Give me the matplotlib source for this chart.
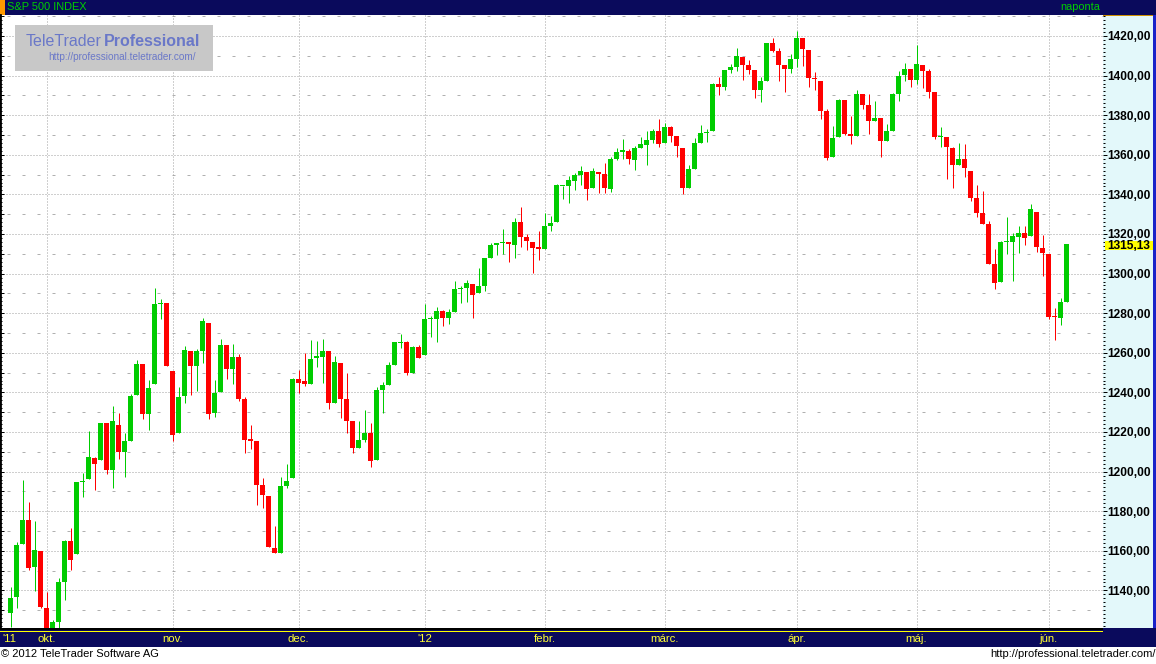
import matplotlib
matplotlib.use('Agg')
import matplotlib.pyplot as plt
from matplotlib.patches import Rectangle
from matplotlib.ticker import MultipleLocator, FixedLocator, FuncFormatter
import matplotlib.transforms as mtransforms

plt.rcParams['font.family'] = ['Liberation Sans', 'DejaVu Sans']
plt.rcParams['lines.scale_dashes'] = False

# ---------------- data (S&P 500 INDEX, daily) ----------------
dates = [
 "2011-09-23","2011-09-26","2011-09-27","2011-09-28","2011-09-29","2011-09-30",
 "2011-10-03","2011-10-04","2011-10-05","2011-10-06","2011-10-07","2011-10-10","2011-10-11","2011-10-12",
 "2011-10-13","2011-10-14","2011-10-17","2011-10-18","2011-10-19","2011-10-20","2011-10-21","2011-10-24",
 "2011-10-25","2011-10-26","2011-10-27","2011-10-28","2011-10-31",
 "2011-11-01","2011-11-02","2011-11-03","2011-11-04","2011-11-07","2011-11-08","2011-11-09","2011-11-10",
 "2011-11-11","2011-11-14","2011-11-15","2011-11-16","2011-11-17","2011-11-18","2011-11-21","2011-11-22",
 "2011-11-23","2011-11-25","2011-11-28","2011-11-29","2011-11-30",
 "2011-12-01","2011-12-02","2011-12-05","2011-12-06","2011-12-07","2011-12-08","2011-12-09","2011-12-12",
 "2011-12-13","2011-12-14","2011-12-15","2011-12-16","2011-12-19","2011-12-20","2011-12-21","2011-12-22",
 "2011-12-23","2011-12-27","2011-12-28","2011-12-29","2011-12-30",
 "2012-01-03","2012-01-04","2012-01-05","2012-01-06","2012-01-09","2012-01-10","2012-01-11","2012-01-12",
 "2012-01-13","2012-01-17","2012-01-18","2012-01-19","2012-01-20","2012-01-23","2012-01-24","2012-01-25",
 "2012-01-26","2012-01-27","2012-01-30","2012-01-31",
 "2012-02-01","2012-02-02","2012-02-03","2012-02-06","2012-02-07","2012-02-08","2012-02-09","2012-02-10",
 "2012-02-13","2012-02-14","2012-02-15","2012-02-16","2012-02-17","2012-02-21","2012-02-22","2012-02-23",
 "2012-02-24","2012-02-27","2012-02-28","2012-02-29",
 "2012-03-01","2012-03-02","2012-03-05","2012-03-06","2012-03-07","2012-03-08","2012-03-09","2012-03-12",
 "2012-03-13","2012-03-14","2012-03-15","2012-03-16","2012-03-19","2012-03-20","2012-03-21","2012-03-22",
 "2012-03-23","2012-03-26","2012-03-27","2012-03-28","2012-03-29","2012-03-30",
 "2012-04-02","2012-04-03","2012-04-04","2012-04-05","2012-04-09","2012-04-10","2012-04-11","2012-04-12",
 "2012-04-13","2012-04-16","2012-04-17","2012-04-18","2012-04-19","2012-04-20","2012-04-23","2012-04-24",
 "2012-04-25","2012-04-26","2012-04-27","2012-04-30",
 "2012-05-01","2012-05-02","2012-05-03","2012-05-04","2012-05-07","2012-05-08","2012-05-09","2012-05-10",
 "2012-05-11","2012-05-14","2012-05-15","2012-05-16","2012-05-17","2012-05-18","2012-05-21","2012-05-22",
 "2012-05-23","2012-05-24","2012-05-25","2012-05-29","2012-05-30","2012-05-31",
 "2012-06-01","2012-06-04","2012-06-05","2012-06-06",
]

opens = [
 1128.8,1136.9,1163.3,1175.4,1151.7,1159.9,
 1131.2,1097.4,1124.0,1144.1,1165.0,1158.2,1194.6,1196.2,1207.0,1205.7,1224.5,1200.8,1223.5,1209.9,1215.4,
 1238.7,1254.2,1229.2,1244.0,1284.4,1285.0,
 1251.0,1219.6,1238.3,1260.8,1253.2,1261.1,1275.2,1229.6,1240.1,1263.9,1251.7,1257.8,1236.6,1216.2,1215.6,
 1193.0,1187.5,1161.4,1158.7,1192.6,1196.7,
 1246.9,1246.0,1244.3,1257.2,1258.1,1260.9,1234.5,1255.1,1236.8,1225.7,1212.1,1216.1,1219.7,1205.7,1241.3,
 1243.7,1254.0,1265.0,1265.4,1249.8,1262.8,
 1258.9,1277.0,1277.3,1280.9,1277.8,1280.8,1292.0,1292.5,1294.8,1290.2,1293.7,1308.1,1314.5,1315.3,1316.0,
 1314.4,1326.3,1318.3,1316.2,1313.5,
 1312.5,1324.2,1326.2,1344.3,1344.3,1347.0,1350.0,1351.2,1343.1,1351.3,1350.5,1342.6,1358.1,1361.2,1362.1,
 1357.5,1363.5,1365.2,1367.6,1372.2,
 1365.9,1374.1,1369.6,1363.6,1343.4,1352.7,1366.0,1370.8,1371.9,1396.0,1394.2,1402.6,1404.2,1409.6,1405.5,
 1402.9,1392.8,1397.1,1416.6,1412.5,1405.4,1403.3,
 1408.5,1419.0,1413.1,1398.8,1397.5,1382.2,1359.0,1368.8,1387.6,1370.3,1369.6,1390.8,1385.1,1377.0,1378.5,
 1367.0,1372.1,1390.6,1400.2,1403.3,
 1397.9,1405.5,1402.3,1391.5,1368.8,1369.2,1363.2,1354.6,1358.1,1351.9,1338.4,1330.8,1324.8,1305.1,1295.7,
 1316.1,1316.0,1318.7,1320.6,1318.9,1331.3,1313.1,
 1309.9,1278.3,1277.8,1285.6,
]

highs = [
 1141.7,1164.2,1195.9,1184.7,1175.1,1159.9,
 1139.0,1125.1,1146.1,1165.6,1171.4,1194.9,1199.2,1220.3,1207.5,1224.6,1224.5,1233.1,1229.6,1219.3,1239.0,
 1256.6,1254.2,1246.3,1292.7,1287.1,1285.0,
 1251.0,1242.5,1263.2,1260.8,1261.7,1277.6,1275.2,1246.2,1267.0,1263.9,1264.3,1259.6,1237.7,1223.5,1215.6,
 1196.8,1187.5,1172.7,1197.4,1203.7,1247.1,
 1251.1,1260.1,1266.7,1266.0,1267.1,1260.9,1258.3,1255.1,1249.9,1225.7,1225.6,1231.0,1224.6,1242.8,1245.1,
 1255.2,1265.4,1269.4,1265.9,1263.5,1264.1,
 1284.6,1278.7,1283.1,1281.8,1282.0,1296.5,1293.8,1296.8,1294.8,1303.0,1308.1,1315.5,1315.4,1322.3,1316.0,
 1328.3,1333.5,1320.1,1316.2,1321.4,
 1330.5,1329.2,1345.3,1344.4,1349.2,1351.0,1354.3,1351.2,1353.4,1351.3,1355.9,1359.0,1363.4,1367.8,1362.7,
 1364.2,1368.9,1371.9,1373.1,1378.0,
 1376.2,1374.5,1369.6,1363.6,1354.9,1368.7,1374.8,1373.0,1396.1,1399.4,1402.6,1405.9,1414.0,1409.6,1407.8,
 1402.9,1399.2,1416.6,1419.2,1413.7,1405.4,1410.9,
 1422.4,1419.0,1413.1,1401.6,1397.5,1383.0,1374.7,1388.1,1387.6,1379.7,1392.8,1390.8,1390.5,1387.4,1378.5,
 1375.6,1391.4,1402.1,1406.6,1403.3,
 1415.3,1405.5,1403.1,1391.5,1373.9,1369.2,1363.7,1365.9,1365.7,1351.9,1344.9,1341.8,1326.4,1312.2,1316.4,
 1328.5,1320.7,1324.1,1324.2,1334.9,1331.3,1319.7,
 1309.9,1282.6,1287.6,1315.1,
]

lows = [
 1121.4,1131.1,1163.3,1150.4,1139.9,1131.3,
 1098.9,1074.8,1115.7,1135.0,1150.3,1158.2,1187.3,1196.2,1190.6,1205.7,1198.6,1191.5,1206.3,1197.3,1215.4,
 1238.7,1226.8,1221.1,1244.0,1277.0,1253.2,
 1215.4,1219.6,1234.8,1238.9,1240.8,1255.0,1226.6,1227.7,1240.1,1246.7,1244.3,1235.7,1209.4,1211.4,1183.2,
 1181.7,1161.8,1158.7,1158.7,1191.8,1196.7,
 1239.7,1243.4,1244.3,1253.0,1244.8,1231.5,1234.5,1227.3,1219.4,1209.5,1212.1,1215.2,1202.4,1205.7,1229.5,
 1243.7,1254.0,1262.3,1248.6,1249.8,1257.5,
 1258.9,1268.1,1265.3,1273.3,1274.6,1280.8,1285.4,1285.8,1277.6,1290.2,1291.0,1308.1,1309.2,1309.9,1306.1,
 1307.7,1313.6,1311.7,1300.5,1306.7,
 1312.5,1321.6,1326.2,1337.5,1335.9,1342.0,1344.6,1337.4,1343.1,1340.8,1340.8,1341.2,1357.2,1358.1,1355.5,
 1352.3,1363.5,1354.9,1366.0,1363.8,
 1365.9,1366.4,1359.1,1340.0,1343.4,1352.7,1366.0,1366.7,1371.9,1390.0,1392.8,1401.5,1402.4,1397.7,1400.6,
 1388.7,1386.9,1397.1,1412.0,1397.2,1391.6,1401.4,
 1404.5,1404.6,1394.1,1392.9,1378.2,1357.4,1359.0,1368.8,1369.9,1365.4,1369.6,1383.3,1370.3,1377.0,1358.8,
 1366.8,1372.1,1387.3,1397.3,1394.0,
 1395.7,1393.9,1388.7,1368.0,1363.9,1347.8,1343.1,1354.6,1348.9,1336.6,1328.4,1324.8,1304.9,1292.0,1295.7,
 1310.0,1296.5,1310.5,1314.2,1318.9,1310.8,1298.9,
 1277.3,1266.7,1274.2,1285.6,
]

closes = [
 1136.4,1163.0,1175.4,1151.1,1160.4,1131.4,
 1099.2,1124.0,1144.0,1165.0,1155.5,1194.9,1195.5,1207.3,1203.7,1224.6,1200.9,1225.4,1209.9,1215.4,1238.3,
 1254.2,1229.1,1242.0,1284.6,1285.1,1253.3,
 1218.3,1237.9,1261.2,1253.2,1261.1,1275.9,1229.1,1239.7,1263.9,1251.8,1257.8,1236.9,1216.1,1215.7,1193.0,
 1188.0,1161.8,1158.7,1192.6,1195.2,1247.0,
 1244.6,1244.3,1257.1,1258.5,1261.0,1234.4,1255.2,1236.5,1225.7,1211.8,1215.8,1219.7,1205.4,1241.3,1243.7,
 1254.0,1265.3,1265.4,1249.6,1263.0,1257.6,
 1277.1,1277.3,1281.1,1277.8,1280.7,1292.1,1292.5,1295.5,1289.1,1293.7,1308.0,1314.5,1315.4,1316.0,1314.7,
 1326.1,1318.4,1316.3,1313.0,1312.4,
 1324.1,1325.5,1344.9,1344.3,1347.1,1350.0,1352.0,1342.6,1351.8,1350.5,1343.2,1358.0,1361.2,1362.2,1357.7,
 1363.5,1365.7,1367.6,1372.2,1365.7,
 1374.1,1369.6,1364.3,1343.4,1352.6,1365.9,1370.9,1371.1,1396.0,1394.3,1402.6,1404.2,1409.8,1405.5,1402.9,
 1392.8,1397.1,1416.5,1412.5,1405.5,1403.3,1408.5,
 1419.0,1413.4,1399.0,1398.1,1382.2,1358.6,1368.7,1387.6,1370.3,1369.6,1390.8,1385.1,1376.9,1378.5,1366.9,
 1372.0,1390.7,1400.0,1403.4,1397.9,
 1405.8,1402.3,1391.6,1369.1,1369.6,1363.7,1354.6,1358.0,1353.4,1338.4,1330.7,1324.8,1304.9,1295.2,1316.0,
 1316.6,1318.9,1320.7,1317.8,1332.4,1313.3,1310.3,
 1278.0,1278.2,1285.5,1315.1,
]

month_labels = ["'11", "okt.", "nov.", "dec.", "'12", "febr.", "márc.", "ápr.", "máj.", "jún."]
month_dates = ["2011-09-23", "2011-10-03", "2011-11-01", "2011-12-01", "2012-01-03",
               "2012-02-01", "2012-03-01", "2012-04-02", "2012-05-01", "2012-06-01"]
y_ticks = list(range(1140, 1421, 20))
last_value = 1315.13
title = "S&P 500 INDEX"
period = "naponta"

# ---------------- styling ----------------
GREEN = '#00cc00'
RED = '#ff0000'
NAVY = '#0a0a5c'
GRID = '#a0a0a0'
W, H = 1156, 664
PT = 0.72  # one pixel in points

fig = plt.figure(figsize=(W / 100, H / 100), dpi=100)
fig.patch.set_facecolor('white')


def frac(x0, y0, x1, y1):
    return [x0 / W, 1 - y1 / H, (x1 - x0) / W, (y1 - y0) / H]


def frect(x0, y0, x1, y1, color, z=-5):
    l, b, w, h = frac(x0, y0, x1, y1)
    fig.add_artist(Rectangle((l, b), w, h, transform=fig.transFigure,
                             facecolor=color, edgecolor='none', zorder=z))


# frame pieces
frect(0, 0, W, 15, NAVY)                 # header
frect(0, 0, 5, 15, '#ff9900', z=-4)      # orange marker
frect(1103, 15, 1153, 628, '#e3f8fa')    # right price panel
frect(1103, 15, 1153, 16, '#d09000', z=-4)
frect(1153, 15, W, 628, '#1a22c8')       # panel border
frect(0, 628, W, 647, NAVY)              # x-axis band
frect(0, 627.6, 1103, 628.6, 'black', z=-4)
frect(0, 629.2, 1103, 630.2, 'black', z=-4)
frect(0, 630.5, 1103, 631.5, '#ffff00', z=-4)

fig.text(7 / W, 1 - 7.5 / H, title, color='#00d000', fontsize=7.9, ha='left', va='center')
fig.text(1100 / W, 1 - 7.5 / H, period, color='#00d000', fontsize=7.9, ha='right', va='center')
fig.text(1 / W, 1 - 654 / H, "© 2012 TeleTrader Software AG", color='black', fontsize=8,
         ha='left', va='center')
fig.text(1156 / W, 1 - 654 / H, "http://professional.teletrader.com/", color='black', fontsize=8,
         ha='right', va='center')

# ---------------- main axes ----------------
ax = fig.add_axes(frac(0, 15, 1103, 628))
ax.set_facecolor('white')
x_left = -10.5 / 6
x_right = (1103 - 10.5) / 6
ax.set_xlim(x_left, x_right)
ax.set_ylim(1320 - (628 - 234) / 1.98, 1320 + (234 - 15) / 1.98)

for s in ['top', 'right', 'bottom']:
    ax.spines[s].set_visible(False)
ax.spines['left'].set_color('black')
ax.spines['left'].set_linewidth(2.0)

ax.set_xticks([])
ax.yaxis.set_major_locator(MultipleLocator(10))
ax.yaxis.set_minor_locator(MultipleLocator(2))
ax.tick_params(axis='y', which='major', direction='in', length=4 * PT, width=1 * PT,
               color='black', labelleft=False)
ax.tick_params(axis='y', which='minor', direction='in', length=2.5 * PT, width=1 * PT,
               color='black')

# horizontal grid
for v in y_ticks:
    ax.axhline(v, color=GRID, lw=1 * PT, ls=(0, (1 * PT, 2 * PT)), zorder=1)
for v in range(1130, 1431, 20):
    ax.axhline(v, color='#b0b0b0', lw=1 * PT, ls=(8 * PT, (3 * PT, 12 * PT)), zorder=1)

# month grid and labels
idx = {d: i for i, d in enumerate(dates)}
label_y = -(639 - 628) / (628 - 15)
for k, (lab, d) in enumerate(zip(month_labels, month_dates)):
    xi = idx[d]
    if k > 0:
        ax.axvline(xi, color=GRID, lw=1 * PT, ls=(0, (1 * PT, 2 * PT)), zorder=1)
        ax.text(xi, label_y, lab, transform=ax.get_xaxis_transform(), color='#ffff33',
                fontsize=8.2, ha='center', va='center', clip_on=False)
    else:
        ax.text(x_left + 2 / 6, label_y, lab, transform=ax.get_xaxis_transform(),
                color='#ffff33', fontsize=8.2, ha='left', va='center', clip_on=False)

# candles
xs = list(range(len(dates)))
cols = [GREEN if c >= o else RED for o, c in zip(opens, closes)]
ax.vlines(xs, lows, highs, colors=cols, lw=1.0 * PT, zorder=3)
bottoms = [min(o, c) for o, c in zip(opens, closes)]
heights = [max(abs(c - o), 0.6) for o, c in zip(opens, closes)]
ax.bar(xs, heights, bottom=bottoms, width=5 / 6, color=cols, linewidth=0, zorder=4)

# ---------------- right price scale ----------------
ax2 = ax.twinx()
ax2.set_ylim(ax.get_ylim())
for s in ['top', 'right', 'bottom', 'left']:
    ax2.spines[s].set_visible(False)
ax2.yaxis.set_major_locator(FixedLocator(y_ticks))
ax2.yaxis.set_minor_locator(MultipleLocator(2))
ax2.yaxis.set_major_formatter(FuncFormatter(lambda v, p: f"{v:.2f}".replace('.', ',')))
ax2.tick_params(axis='y', which='major', direction='out', length=4 * PT, width=1 * PT,
                color='black', pad=0.5, labelsize=8.6, labelcolor='black')
ax2.tick_params(axis='y', which='minor', direction='out', length=2 * PT, width=1 * PT,
                color='black')
for t in ax2.get_yticklabels():
    t.set_fontweight('bold')

# highlighted last value: yellow box hugging the digits
px_per_unit = 1.98
box_top = last_value + 3.0 / px_per_unit
box_bot = last_value - 6.4 / px_per_unit
xform = mtransforms.blended_transform_factory(ax2.transAxes, ax2.transData)
ax2.add_patch(Rectangle((1 + 2 / 1103, box_bot), 48 / 1103, box_top - box_bot, transform=xform,
                        facecolor='#ffff00', edgecolor='none', clip_on=False, zorder=9))
ax2.text(1 + 4 / 1103, box_bot + 0.9 / px_per_unit, f"{last_value:.2f}".replace('.', ','),
         transform=xform, ha='left', va='baseline', fontsize=8.6, fontweight='bold',
         color='black', clip_on=False, zorder=10)

# ---------------- watermark ----------------
frect(15, 25, 213, 71, '#c8c8c8', z=5)
fig.text(26 / W, 1 - 45.5 / H, "TeleTrader", color='#6a78c8', fontsize=11.5,
         ha='left', va='baseline', zorder=6)
fig.text(104 / W, 1 - 45.5 / H, "Professional", color='#6a78c8', fontsize=11.5,
         fontweight='bold', ha='left', va='baseline', zorder=6)
fig.text(122 / W, 1 - 57 / H, "http://professional.teletrader.com/", color='#6a78c8',
         fontsize=7.2, ha='center', va='center', zorder=6)

fig.savefig('out.png', dpi=100, facecolor='white')
